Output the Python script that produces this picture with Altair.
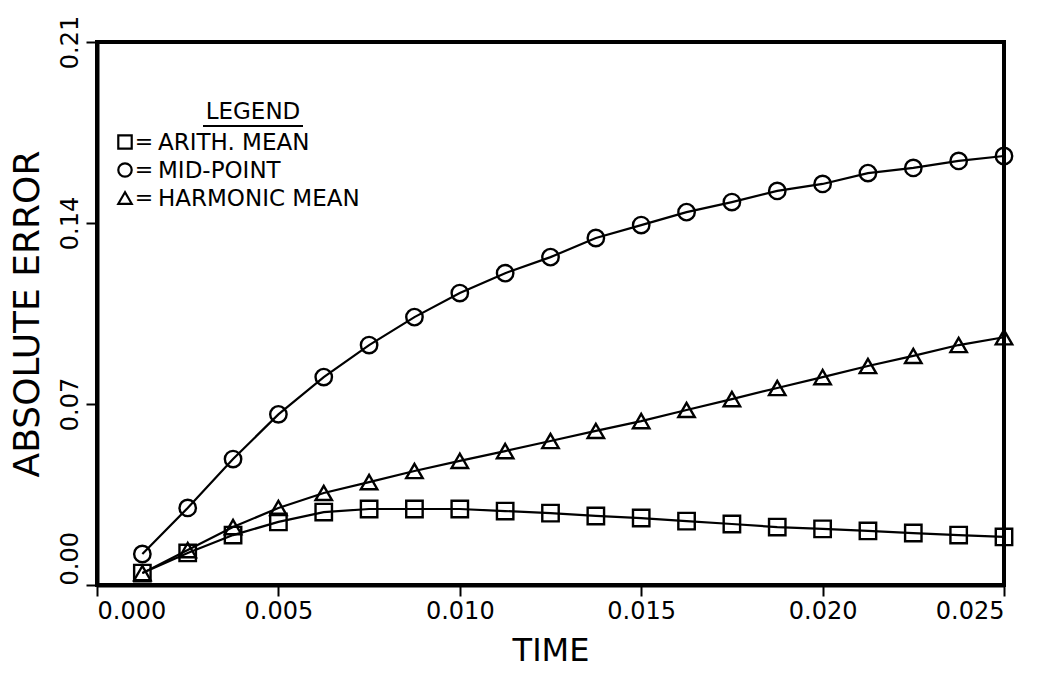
import altair as alt
import pandas as pd

time = [0.00125, 0.0025, 0.00375, 0.005, 0.00625, 0.0075, 0.00875, 0.010, 0.01125, 0.0125,
        0.01375, 0.015, 0.01625, 0.0175, 0.01875, 0.020, 0.02125, 0.0225, 0.02375, 0.025]
arith_mean = [0.0046, 0.0124, 0.0193, 0.0244, 0.0282, 0.0294, 0.0294, 0.0294, 0.0286, 0.0278,
              0.0267, 0.0259, 0.0247, 0.0236, 0.0224, 0.0217, 0.0209, 0.0201, 0.0193, 0.0186]
mid_point = [0.0120, 0.0298, 0.0487, 0.0660, 0.0804, 0.0928, 0.1036, 0.1129, 0.1206, 0.1268,
             0.1342, 0.1392, 0.1442, 0.1481, 0.1524, 0.1551, 0.1593, 0.1613, 0.1640, 0.1659]
harmonic_mean = [0.0046, 0.0135, 0.0224, 0.0298, 0.0356, 0.0398, 0.0441, 0.0480, 0.0518, 0.0557,
                 0.0596, 0.0634, 0.0677, 0.0719, 0.0762, 0.0804, 0.0847, 0.0886, 0.0928, 0.0958]

series_names = ["ARITH. MEAN", "MID-POINT", "HARMONIC MEAN"]
series_shapes = ["square", "circle", "triangle-up"]
x_ticks = [0.0, 0.005, 0.010, 0.015, 0.020, 0.025]
y_ticks = [0.0, 0.07, 0.14, 0.21]

rows = []
for name, vals in zip(series_names, [arith_mean, mid_point, harmonic_mean]):
    for t, v in zip(time, vals):
        rows.append({"time": t, "err": v, "series": name})
df = pd.DataFrame(rows)

FONT = "DejaVu Sans"

x_enc = alt.X("time:Q", scale=alt.Scale(domain=[0, 0.025], nice=False, zero=False),
              axis=alt.Axis(values=x_ticks, format=".3f", title="TIME"))
y_enc = alt.Y("err:Q", scale=alt.Scale(domain=[0, 0.21], nice=False),
              axis=alt.Axis(values=y_ticks, format=".2f", title="ABSOLUTE ERROR",
                            labelAngle=270,
                            labelAlign=alt.expr("datum.value === 0 ? 'left' : 'center'"),
                            labelBaseline="bottom"))

base = alt.Chart(df)
lines = base.mark_line(color="black", strokeWidth=2.2).encode(
    x=x_enc, y=y_enc, detail="series:N")
points = base.mark_point(filled=False, color="black", strokeWidth=2.4, size=270, opacity=1).encode(
    x="time:Q", y="err:Q",
    shape=alt.Shape("series:N", scale=alt.Scale(domain=series_names, range=series_shapes), legend=None))

one = pd.DataFrame({"a": [0]})
legend_title = alt.Chart(one).mark_text(text="LEGEND", font=FONT, fontSize=23, align="center",
                                         baseline="middle", color="black").encode(
    x=alt.value(156), y=alt.value(70))
underline = alt.Chart(one).mark_rule(color="black", strokeWidth=2).encode(
    x=alt.value(106), x2=alt.value(206), y=alt.value(84))

legend_layers = [legend_title, underline]
for i, (name, shp) in enumerate(zip(series_names, series_shapes)):
    yy = 100 + 28 * i
    legend_layers.append(alt.Chart(one).mark_point(shape=shp, filled=False, color="black",
                                                   strokeWidth=2.2, size=180, opacity=1).encode(
        x=alt.value(28), y=alt.value(yy)))
    legend_layers.append(alt.Chart(one).mark_text(text="=", font=FONT, fontSize=22,
                                                  align="center", baseline="middle", color="black").encode(
        x=alt.value(47), y=alt.value(yy)))
    legend_layers.append(alt.Chart(one).mark_text(text=name, font=FONT, fontSize=23,
                                                  align="left", baseline="middle", color="black").encode(
        x=alt.value(61), y=alt.value(yy + 1)))

chart = alt.layer(lines, points, *legend_layers).properties(
    width=907, height=543,
    background="white",
    autosize=alt.AutoSizeParams(type="none"),
    padding={"left": 97, "top": 42, "right": 51, "bottom": 94},
).configure_view(
    stroke="black", strokeWidth=4
).configure_axis(
    grid=False, domainColor="black", domainWidth=4, tickColor="black", tickWidth=2,
    tickSize=11, labelFont=FONT, labelColor="black", titleFont=FONT, titleColor="black",
    titleFontWeight="normal"
).configure_axisX(
    labelFontSize=24, labelPadding=3, titleFontSize=32, titlePadding=12
).configure_axisY(
    labelFontSize=24, labelPadding=4, titleFontSize=36, titlePadding=12
)

chart.save("out.html", embed_options={"renderer": "svg", "actions": False})
